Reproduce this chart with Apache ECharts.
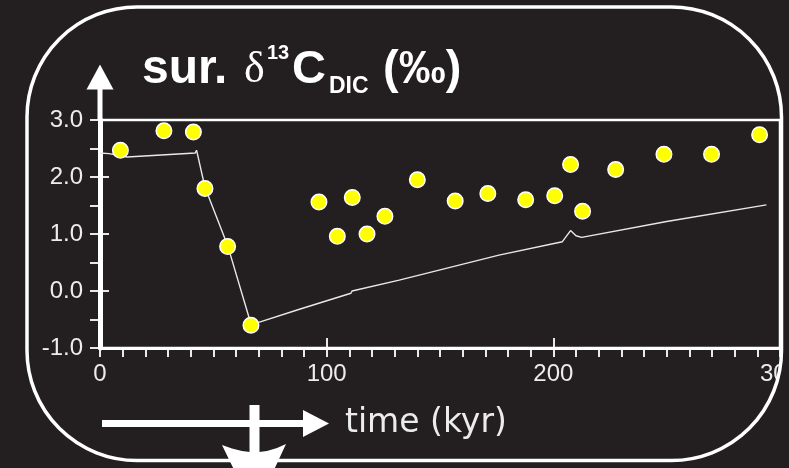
<!DOCTYPE html>
<html><head><meta charset="utf-8">
<script src="https://cdn.jsdelivr.net/npm/echarts@6/dist/echarts.min.js"></script>
<style>html,body{margin:0;padding:0;background:#231f20;}#c{width:789px;height:468px;}</style>
</head><body><div id="c"></div>
<script>
// observed surface d13C DIC (kyr, permil)
const obsTime  = [9.0, 28.2, 41.2, 46.3, 56.3, 66.6, 96.6, 104.7, 111.3, 117.8, 125.7, 140.0, 156.7, 171.1, 187.8, 200.6, 207.6, 212.9, 227.5, 248.8, 269.8, 291.0];
const obsValue = [2.47, 2.81, 2.79, 1.80, 0.78, -0.60, 1.56, 0.96, 1.64, 1.00, 1.31, 1.95, 1.58, 1.71, 1.60, 1.67, 2.22, 1.40, 2.13, 2.40, 2.40, 2.74];
// model curve
const modelTime  = [0, 4, 12, 42, 42.6, 46.3, 56.3, 66.6, 67.4, 70, 88, 110.7, 111.2, 112, 132, 176, 204, 207.6, 210, 212.5, 250, 294];
const modelValue = [2.42, 2.41, 2.35, 2.42, 2.47, 1.82, 0.80, -0.58, -0.62, -0.55, -0.32, -0.04, 0.00, -0.01, 0.19, 0.63, 0.865, 1.06, 0.97, 0.94, 1.22, 1.51];
const xRange = [0, 300], xStep = 100;
const yRange = [-1, 3], yStep = 1;

const BG = '#231f20', FG = '#ffffff', TXT = '#ececec';
const chart = echarts.init(document.getElementById('c'));
const tickFont = { fontFamily: 'Liberation Sans', fontSize: 24, color: TXT };

const commonX = { type: 'value', min: xRange[0], max: xRange[1], interval: xStep, gridIndex: 0, splitLine: { show: false } };
const commonY = { type: 'value', min: yRange[0], max: yRange[1], interval: yStep, gridIndex: 0, splitLine: { show: false } };

chart.setOption({
  backgroundColor: BG,
  animation: false,
  grid: { left: 100, right: 9, top: 120, bottom: 120, show: true, borderColor: FG, borderWidth: 2.5, outerBoundsMode: 'none' },
  xAxis: [
    Object.assign({}, commonX, {
      position: 'bottom',
      axisLine: { show: true, onZero: false, lineStyle: { color: FG, width: 3 } },
      axisTick: { show: true, inside: false, length: 9, lineStyle: { color: FG, width: 1.8 } },
      minorTick: { show: true, splitNumber: 10, length: 9, lineStyle: { color: FG, width: 1.8 } },
      axisLabel: Object.assign({ margin: 14 }, tickFont)
    }),
    Object.assign({}, commonX, {
      position: 'bottom',
      axisLine: { show: false, onZero: false },
      axisTick: { show: true, inside: true, length: 10, lineStyle: { color: FG, width: 1.8 } },
      axisLabel: { show: false }
    })
  ],
  yAxis: [
    Object.assign({}, commonY, {
      position: 'left',
      axisLine: { show: true, onZero: false, lineStyle: { color: FG, width: 5 } },
      axisTick: { show: true, inside: false, length: 10, lineStyle: { color: FG, width: 1.8 } },
      minorTick: { show: true, splitNumber: 2, length: 10, lineStyle: { color: FG, width: 1.8 } },
      axisLabel: Object.assign({ margin: 17, formatter: v => v.toFixed(1) }, tickFont)
    }),
    Object.assign({}, commonY, {
      position: 'left', offset: 0,
      axisLine: { show: false, onZero: false },
      axisTick: { show: true, inside: true, length: 9, lineStyle: { color: FG, width: 1.8 } },
      axisLabel: { show: false }
    })
  ],
  series: [
    {
      type: 'line', xAxisIndex: 0, yAxisIndex: 0, showSymbol: false, symbol: 'none',
      data: modelTime.map((t, i) => [t, modelValue[i]]),
      lineStyle: { color: '#e8e8e8', width: 1.4 }, z: 2
    },
    {
      type: 'scatter', xAxisIndex: 0, yAxisIndex: 0, symbolSize: 15.5,
      data: obsTime.map((t, i) => [t, obsValue[i]]),
      itemStyle: { color: '#ffff00', borderColor: FG, borderWidth: 1.5, opacity: 1 }, z: 3
    }
  ],
  graphic: [
    { type: 'rect', z: 50, silent: true, shape: { x: -13, y: -33, width: 834.5, height: 533.5, r: 150 }, style: { fill: 'none', stroke: BG, lineWidth: 80 } },
    { type: 'rect', z: 51, silent: true, shape: { x: 27, y: 7, width: 754.5, height: 453.5, r: 110 }, style: { fill: 'none', stroke: FG, lineWidth: 3.5 } },
    { type: 'line', z: 52, silent: true, shape: { x1: 100, y1: 121, x2: 100, y2: 86 }, style: { stroke: FG, lineWidth: 5 } },
    { type: 'polygon', z: 52, silent: true, shape: { points: [[86.5, 89.5], [100, 64.5], [113.5, 89.5]] }, style: { fill: FG } },
    { type: 'text', z: 52, silent: true, style: { x: 142, y: 70, text: 'sur.', textVerticalAlign: 'middle', font: 'bold 48px "Liberation Sans"', fill: FG } },
    { type: 'text', z: 52, silent: true, style: { x: 244, y: 70, text: 'δ', textVerticalAlign: 'middle', font: '44px "Liberation Serif"', fill: FG } },
    { type: 'text', z: 52, silent: true, style: { x: 267, y: 53, text: '13', textVerticalAlign: 'middle', font: 'bold 20px "Liberation Sans"', fill: FG } },
    { type: 'text', z: 52, silent: true, style: { x: 292, y: 70, text: 'C', textVerticalAlign: 'middle', font: 'bold 47px "Liberation Sans"', fill: FG } },
    { type: 'text', z: 52, silent: true, style: { x: 329, y: 87, text: 'DIC', textVerticalAlign: 'middle', font: 'bold 23px "Liberation Sans"', fill: FG } },
    { type: 'text', z: 52, silent: true, style: { x: 383, y: 70, text: '(‰)', textVerticalAlign: 'middle', font: 'bold 47px "Liberation Sans"', fill: FG } },
    { type: 'line', z: 52, silent: true, shape: { x1: 102, y1: 423.5, x2: 306, y2: 423.5 }, style: { stroke: FG, lineWidth: 7 } },
    { type: 'polygon', z: 52, silent: true, shape: { points: [[303, 410], [329, 423.5], [303, 437]] }, style: { fill: FG } },
    { type: 'text', z: 52, silent: true, style: { x: 345, y: 423, text: 'time (kyr)', textVerticalAlign: 'middle', font: '33px "DejaVu Sans"', fill: TXT } },
    { type: 'rect', z: 53, silent: true, shape: { x: 249.5, y: 405, width: 10, height: 55 }, style: { fill: FG } },
    { type: 'polygon', z: 53, silent: true, shape: { points: [[222, 445], [232, 448.5], [242, 451], [250, 452], [259, 452], [267, 451], [277, 448], [286, 444], [254.5, 512]] }, style: { fill: FG } }
  ]
});
</script>
</body></html>
